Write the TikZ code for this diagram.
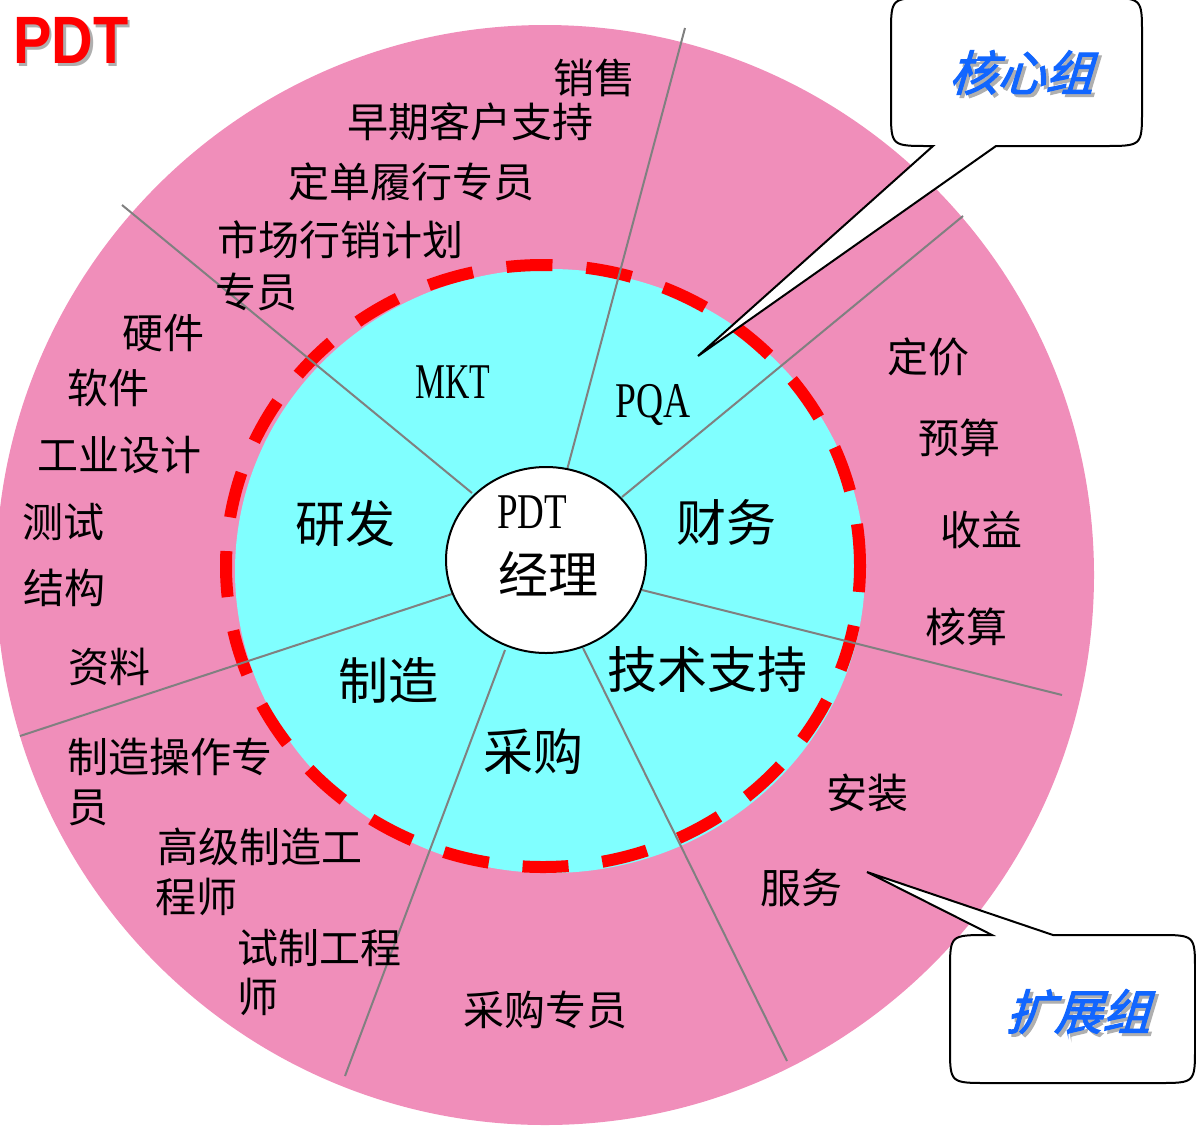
\documentclass[tikz,border=0pt]{standalone}
\usepackage{fontspec}
\setmainfont{Noto Sans CJK SC}
\newfontfamily\latinserif{Liberation Serif}
\newfontfamily\titlefont{Liberation Sans}
\newfontfamily\callifont[FakeSlant=0.3,FakeBold=2.5]{Noto Sans CJK SC}
\usetikzlibrary{shapes.geometric}
\definecolor{pinkbg}{RGB}{240,142,186}
\definecolor{cyanbg}{RGB}{128,255,255}
\definecolor{calloutblue}{RGB}{17,102,255}
\definecolor{shadowgray}{RGB}{175,175,175}
\definecolor{sepgray}{RGB}{128,128,128}
\newcommand\shadowedtext[2]{\makebox[0pt][l]{\hspace{3pt}\raisebox{-3pt}{\textcolor{shadowgray}{#2}}}\textcolor{#1}{#2}}
\tikzset{
  lbl/.style={anchor=west, inner sep=0pt, font=\fontsize{41}{49}\selectfont},
  biglbl/.style={anchor=west, inner sep=0pt, font=\fontsize{50}{60}\selectfont},
  sepline/.style={draw=sepgray, line width=2pt},
  callout/.style={draw=black, line width=2pt, fill=white, line join=miter},
  callouttext/.style={inner sep=0pt, font=\callifont\fontsize{48}{56}\selectfont},
}
\begin{document}
\begin{tikzpicture}[x=1pt, y=-1pt]
\useasboundingbox (0,0) rectangle (1196,1128);
% background discs
\fill[pinkbg] (545,575) ellipse[x radius=549, y radius=550];
\fill[cyanbg] (550,571) ellipse[x radius=315, y radius=302];
\draw[red, line width=12pt, dash pattern=on 46pt off 34pt, dash phase=20pt] (543,566) ellipse[x radius=317, y radius=301];
% separator lines
\coordinate (s1a) at (567,470); \coordinate (s1b) at (685,28);
\coordinate (s2a) at (472,493); \coordinate (s2b) at (122,205);
\coordinate (s3a) at (622,497); \coordinate (s3b) at (963,216);
\coordinate (s4a) at (642,590); \coordinate (s4b) at (1062,695);
\coordinate (s5a) at (583,648); \coordinate (s5b) at (787,1061);
\coordinate (s6a) at (505,650); \coordinate (s6b) at (345,1076);
\coordinate (s7a) at (452,594); \coordinate (s7b) at (20,736);
\foreach \i in {1,...,7} { \draw[sepline] (s\i a) -- (s\i b); }
% center
\node[ellipse, draw=black, line width=2pt, fill=white, minimum width=200pt, minimum height=186pt, inner sep=0pt] (mgr) at (546,560) {};
\node[biglbl] (mgrpdt) at (497,512) {\scalebox{0.74}[1]{\latinserif PDT}};
\node[biglbl] (mgrjl) at (498,574) {经理};
% inner labels
\node[biglbl] (mkt) at (415,382) {\scalebox{0.675}[1]{\latinserif MKT}};
\node[biglbl] (pqa) at (615,405) {\scalebox{0.75}[1]{\latinserif PQA}};
\node[biglbl] (yf) at (295,523) {研发};
\node[biglbl] (cw) at (676,522) {财务};
\node[biglbl] (zz) at (338,680) {制造};
\node[biglbl] (jszc) at (607,670) {技术支持};
\node[biglbl] (cg) at (483,752) {采购};
% outer labels
\node[lbl] (o1) at (553,78) {销售};
\node[lbl] (o2) at (347,122) {早期客户支持};
\node[lbl] (o3) at (288,182) {定单履行专员};
\node[lbl] (o4) at (217,240) {市场行销计划};
\node[lbl] (o4b) at (215,292) {专员};
\node[lbl] (o5) at (122,333) {硬件};
\node[lbl] (o6) at (67,388) {软件};
\node[lbl] (o7) at (37,455) {工业设计};
\node[lbl] (o8) at (22,522) {测试};
\node[lbl] (o9) at (23,588) {结构};
\node[lbl] (o10) at (68,667) {资料};
\node[lbl] (o11) at (67,757) {制造操作专};
\node[lbl] (o11b) at (67,808) {员};
\node[lbl] (o12) at (157,847) {高级制造工};
\node[lbl] (o12b) at (155,897) {程师};
\node[lbl] (o13) at (237,948) {试制工程};
\node[lbl] (o13b) at (237,997) {师};
\node[lbl] (o14) at (463,1010) {采购专员};
\node[lbl] (o15) at (760,888) {服务};
\node[lbl] (o16) at (826,793) {安装};
\node[lbl] (o17) at (887,357) {定价};
\node[lbl] (o18) at (918,438) {预算};
\node[lbl] (o19) at (940,530) {收益};
\node[lbl] (o20) at (925,627) {核算};
% title
\node[inner sep=0pt, font=\titlefont\bfseries\fontsize{67}{70}\selectfont] (tit) at (71,42) {\scalebox{0.86}[1]{\shadowedtext{red}{PDT}}};
% callout 1
\coordinate (c1tip) at (698,356);
\draw[callout] (933,146) -- (c1tip) -- (996,146) -- (1104,146) .. controls (1142,146) .. (1142,110) -- (1142,34) .. controls (1142,-2) .. (1104,-2) -- (929,-2) .. controls (891,-2) .. (891,34) -- (891,110) .. controls (891,146) .. (929,146) -- cycle;
\node[callouttext] (c1) at (1021,74) {\shadowedtext{calloutblue}{核心组}};
% callout 2
\coordinate (c2tip) at (867,872);
\draw[callout] (992,935) -- (c2tip) -- (1053,935) -- (1158,935) .. controls (1195,935) .. (1195,971) -- (1195,1047) .. controls (1195,1083) .. (1158,1083) -- (988,1083) .. controls (950,1083) .. (950,1047) -- (950,971) .. controls (950,935) .. (988,935) -- cycle;
\node[callouttext] (c2) at (1078,1013) {\shadowedtext{calloutblue}{扩展组}};
\end{tikzpicture}
\end{document}
